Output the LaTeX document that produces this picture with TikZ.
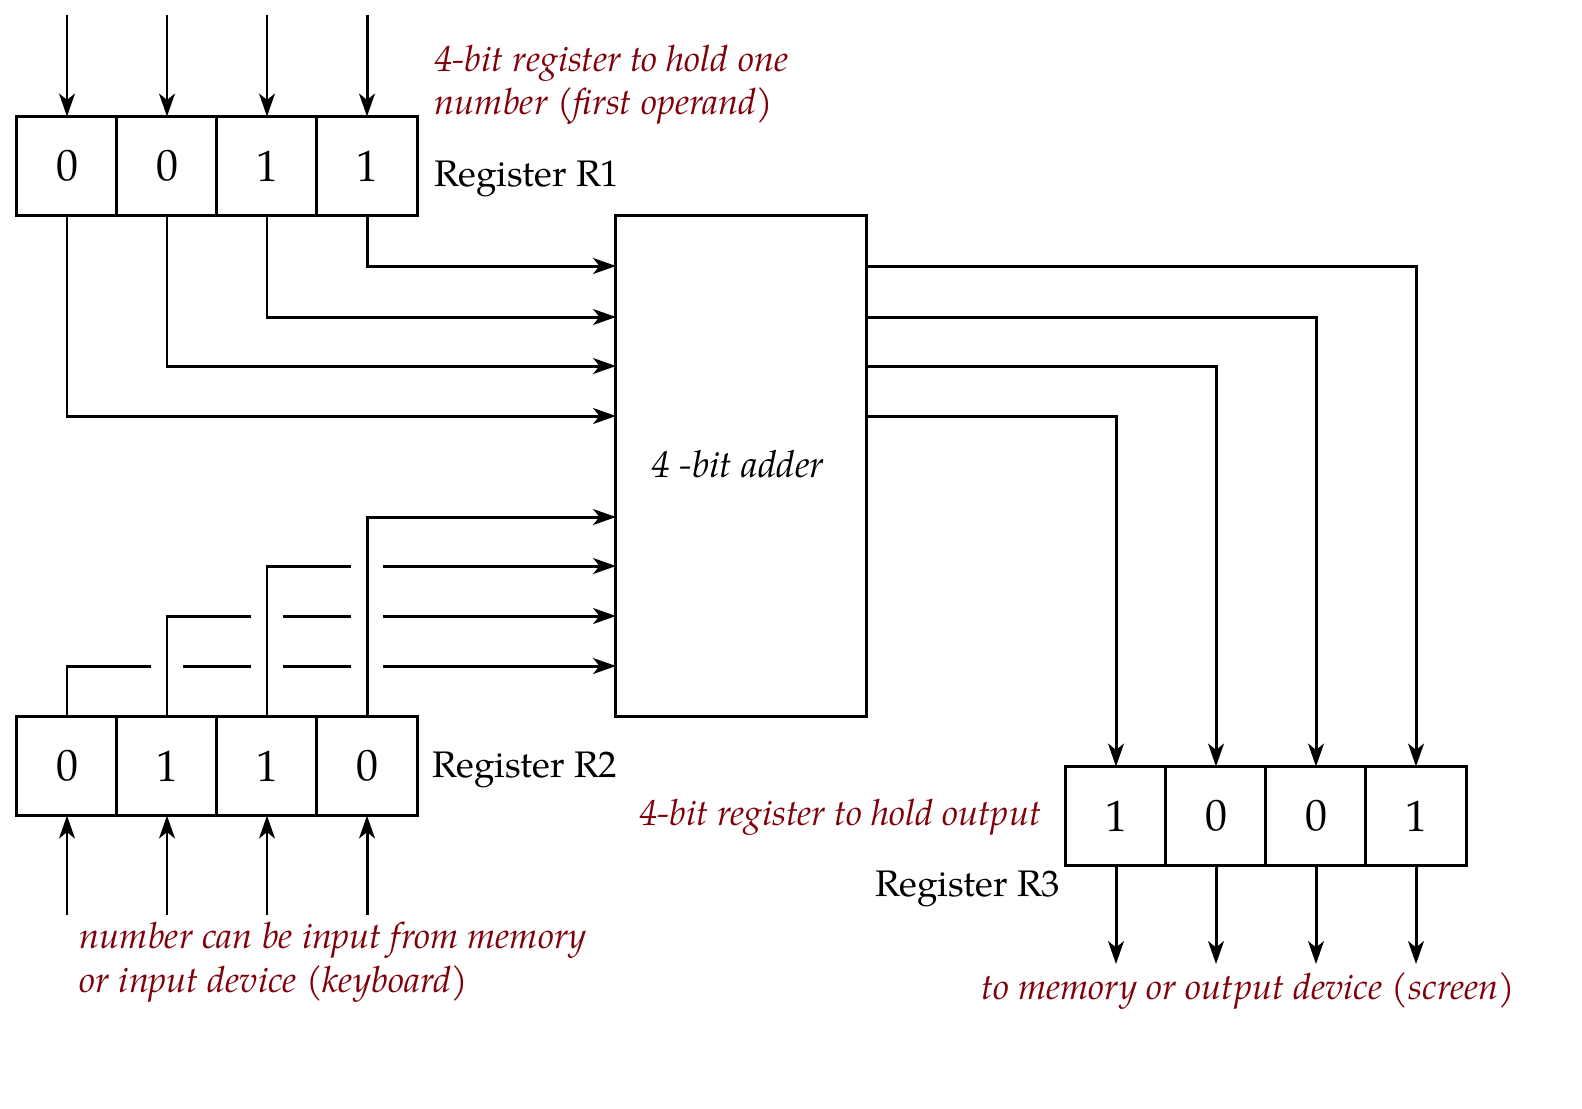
\documentclass[tikz,border=0pt]{standalone}
\usepackage{fontspec}
\setmainfont{texgyrepagella}[Extension=.otf,UprightFont=*-regular,ItalicFont=*-italic,BoldFont=*-bold,BoldItalicFont=*-bolditalic]
\usetikzlibrary{arrows.meta}
\definecolor{notered}{RGB}{128,0,10}
\tikzset{
  wire/.style={line width=0.85pt,-{Stealth[length=6.5pt,width=4.5pt,inset=1.8pt]}},
  line/.style={line width=0.85pt},
  halo/.style={preaction={draw=white,line width=9pt,-}},
  cell/.style={draw,line width=0.85pt,fill=white,outer sep=0pt,minimum width=1cm,minimum height=0.99cm,inner sep=0pt,font=\fontsize{12.5}{14}\selectfont},
  note/.style={text=notered,font=\fontsize{10.3}{12}\selectfont\itshape,inner sep=0pt,align=left},
  label/.style={font=\fontsize{10.5}{12}\selectfont,inner sep=0pt}
}
\begin{document}
\begin{tikzpicture}[x=0.01cm,y=-0.01cm]
\useasboundingbox (0,0) rectangle (1582,1108);
% register R1
\node[cell] (r1a) at (67,166) {0};
\node[cell] (r1b) at (167,166) {0};
\node[cell] (r1c) at (267,166) {1};
\node[cell] (r1d) at (367,166) {1};
% register R2
\node[cell] (r2a) at (67,766) {0};
\node[cell] (r2b) at (167,766) {1};
\node[cell] (r2c) at (267,766) {1};
\node[cell] (r2d) at (367,766) {0};
% register R3
\node[cell] (r3a) at (1116,816) {1};
\node[cell] (r3b) at (1216,816) {0};
\node[cell] (r3c) at (1316,816) {0};
\node[cell] (r3d) at (1416,816) {1};
% adder (outline drawn after the wires)
\node[outer sep=0pt,minimum width=2.5cm,minimum height=5cm,inner sep=0pt] (adder) at (741,466) {};
\node[font=\fontsize{10.6}{13}\selectfont\itshape,inner sep=0pt] (addtxt) at (738,464) {4 -bit adder};

% end points
\coordinate (i1) at (67,15);
\coordinate (i2) at (167,15);
\coordinate (i3) at (267,15);
\coordinate (i4) at (367,15);
\coordinate (j1) at (67,915);
\coordinate (j2) at (167,915);
\coordinate (j3) at (267,915);
\coordinate (j4) at (367,915);
\coordinate (o1) at (1116,964);
\coordinate (o2) at (1216,964);
\coordinate (o3) at (1316,964);
\coordinate (o4) at (1416,964);
\coordinate (ain1) at (616,266);
\coordinate (ain2) at (616,317);
\coordinate (ain3) at (616,366);
\coordinate (ain4) at (616,416);
\coordinate (bin1) at (616,517);
\coordinate (bin2) at (616,566);
\coordinate (bin3) at (616,616);
\coordinate (bin4) at (616,666);
\coordinate (aout1) at (866,266);
\coordinate (aout2) at (866,317);
\coordinate (aout3) at (866,366);
\coordinate (aout4) at (866,416);

% inputs of R1
\draw[wire] (i1) -- (r1a.north);
\draw[wire] (i2) -- (r1b.north);
\draw[wire] (i3) -- (r1c.north);
\draw[wire] (i4) -- (r1d.north);
% R1 to adder
\draw[wire] (r1d.south) |- (ain1);
\draw[wire] (r1c.south) |- (ain2);
\draw[wire] (r1b.south) |- (ain3);
\draw[wire] (r1a.south) |- (ain4);
% R2 to adder, crossings left open
\draw[wire] (r2a.north) |- (bin4);
\draw[wire,halo] (r2b.north) |- (bin3);
\draw[wire,halo] (r2c.north) |- (bin2);
\draw[wire,halo] (r2d.north) |- (bin1);
% inputs of R2
\draw[wire] (j1) -- (r2a.south);
\draw[wire] (j2) -- (r2b.south);
\draw[wire] (j3) -- (r2c.south);
\draw[wire] (j4) -- (r2d.south);
% adder to R3
\draw[wire] (aout1) -| (r3d.north);
\draw[wire] (aout2) -| (r3c.north);
\draw[wire] (aout3) -| (r3b.north);
\draw[wire] (aout4) -| (r3a.north);
% outputs of R3
\draw[wire] (r3a.south) -- (o1);
\draw[wire] (r3b.south) -- (o2);
\draw[wire] (r3c.south) -- (o3);
\draw[wire] (r3d.south) -- (o4);

% outlines on top of the halos
\draw[line] (adder.north west) rectangle (adder.south east);
\draw[line] (r2a.north west) -- (r2d.north east);

% labels
\node[label,anchor=base west] (r1lbl) at (434,186) {Register R1};
\node[label,anchor=base west] (r2lbl) at (432,777) {Register R2};
\node[label,anchor=base east] (r3lbl) at (1061,896) {Register R3};
\node[note,anchor=base west] (n1a) at (434,71) {4-bit register to hold one};
\node[note,anchor=base west] (n1b) at (434,114) {number (first operand)};
\node[note,anchor=base east] (n3) at (1042,825) {4-bit register to hold output};
\node[note,anchor=base west] (n2a) at (79,948) {number can be input from memory};
\node[note,anchor=base west] (n2b) at (79,992) {or input device (keyboard)};
\node[note,anchor=base west] (n4) at (981,999) {to memory or output device (screen)};
\end{tikzpicture}
\end{document}
